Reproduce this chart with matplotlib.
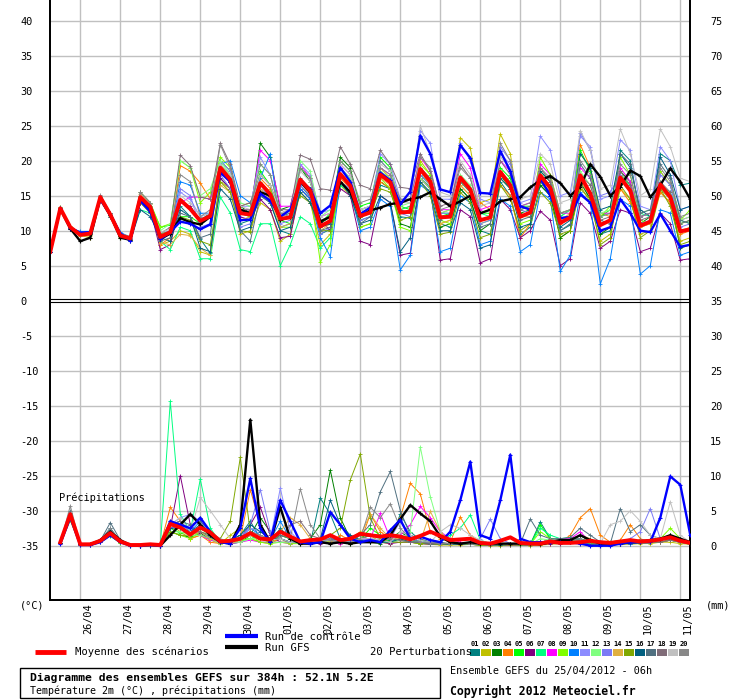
import matplotlib
matplotlib.use('Agg')
import matplotlib.pyplot as plt
from matplotlib.lines import Line2D
from matplotlib.patches import Rectangle

# ---------------- data ----------------
hours = list(range(0, 385, 6))          # 25/04 06h ... +384h, 6-hourly
precip_hours = hours[1:]
day_hours = list(range(18, 384, 24))    # 00h of each day
day_labels = ['26/04', '27/04', '28/04', '29/04', '30/04', '01/05', '02/05', '03/05',
              '04/05', '05/05', '06/05', '07/05', '08/05', '09/05', '10/05', '11/05']
left_ticks = [40, 35, 30, 25, 20, 15, 10, 5, 0, -5, -10, -15, -20, -25, -30, -35]
right_ticks = [75, 70, 65, 60, 55, 50, 45, 40, 35, 30, 25, 20, 15, 10, 5, 0]
member_ids = ['01', '02', '03', '04', '05', '06', '07', '08', '09', '10',
              '11', '12', '13', '14', '15', '16', '17', '18', '19', '20']
member_colors = ['#008080', '#c0c000', '#008000', '#ff8000', '#00ff00', '#800080', '#00ff80',
                 '#ff00ff', '#80ff00', '#0080ff', '#8c8cff', '#80ff80', '#7b7bf5', '#e0b040',
                 '#80a800', '#005f80', '#507080', '#806c78', '#c0c0c0', '#888888']

temp_mean = [7.0,13.2,10.5,9.4,9.6,14.8,12.3,9.3,8.9, 14.8,13.4,9.1,9.8, 14.4,13.1,11.4,12.1,
             19.0,17.3,12.5,12.3, 16.8,15.2,11.7,11.9, 17.3,15.7,10.6,11.4, 18.1,16.4,12.1,12.6,
             18.0,16.9,12.6,12.7, 18.8,17.0,11.9,12.0, 17.6,15.9,11.5,11.9, 18.4,16.5,12.0,12.6,
             17.9,16.1,11.1,11.9, 17.9,15.3,10.8,11.5, 17.6,15.7,10.7,11.3, 16.6,14.8,9.9,10.2]
temp_ctrl = [7.0,13.2,10.4,9.7,9.8,14.5,12.3,9.6,8.6, 14.3,12.7,8.8,9.8, 11.3,11.0,10.2,10.9,
             18.3,17.0,11.5,11.6, 15.3,14.3,12.0,13.0, 17.0,16.0,12.5,13.6, 19.0,17.0,12.4,13.3,
             18.3,17.2,13.8,15.6, 23.6,21.0,15.9,15.5, 22.2,20.4,15.4,15.3, 21.4,18.5,13.5,13.0,
             17.5,15.0,11.8,12.0, 15.2,14.0,10.0,10.5, 14.5,12.5,10.0,9.8, 12.4,10.0,7.7,8.0]
temp_gfs = [7.0,13.1,10.3,8.5,9.0,14.6,12.2,9.0,8.7, 14.4,13.0,8.8,9.6, 11.8,11.2,10.9,12.0,
            18.6,17.0,13.0,12.5, 15.5,15.0,11.5,12.0, 17.0,15.5,11.3,12.0, 17.0,15.5,12.1,12.9,
            13.3,13.8,14.0,14.5, 14.8,15.5,14.5,13.5, 14.2,15.0,12.5,13.0, 14.2,14.5,14.8,16.2,
            17.2,17.8,16.8,15.0, 16.3,19.5,17.7,15.0, 16.3,18.6,17.8,14.8, 16.5,18.9,17.0,14.5]

t01 = [7.0,13.3,10.4,9.6,9.8,14.6,12.4,9.4,8.8, 14.6,13.0,9.2,9.9, 13.5,12.0,8.8,6.8, 17.5,16.0,11.0,11.5, 15.0,14.0,10.0,9.5, 16.5,14.8,9.5,10.2, 17.0,15.5,11.5,12.0, 16.5,16.0,12.0,11.8, 17.5,16.2,11.0,10.5, 16.0,14.5,10.0,9.5, 17.0,15.0,9.5,10.5, 16.5,15.0,10.0,10.8, 17.0,14.5,9.5,10.0, 21.5,20.0,12.0,12.5, 21.0,20.0,16.5,16.8]
t02 = [7.0,13.4,10.6,9.3,9.0,14.5,12.0,9.0,8.7, 14.0,13.0,8.0,8.5, 10.0,9.5,7.0,6.5, 17.0,16.0,9.5,10.0, 14.0,13.0,8.5,9.5, 15.5,14.0,8.0,9.5, 16.5,15.0,10.5,11.0, 19.0,17.5,12.5,13.0, 20.0,18.0,11.0,11.5, 23.3,21.8,14.0,14.5, 23.8,21.0,12.0,12.5, 17.0,15.0,9.0,10.0, 16.5,14.0,8.5,9.5, 16.0,14.5,9.5,10.0, 15.5,14.0,8.5,9.0]
t03 = [7.0,13.1,10.5,9.5,9.7,14.9,12.5,9.3,9.0, 15.0,13.5,9.0,9.8, 14.5,13.3,11.5,12.5, 20.0,18.5,13.5,12.5, 22.5,20.5,13.0,13.5, 19.0,17.0,11.0,12.0, 20.5,19.0,13.0,13.5, 17.0,16.0,11.0,10.5, 18.0,16.5,10.5,11.0, 16.0,14.5,10.0,11.0, 18.0,16.0,12.5,13.0, 16.5,15.0,9.0,10.0, 17.0,14.5,9.5,10.5, 18.5,17.0,11.0,12.0, 16.0,14.5,7.5,8.0]
t04 = [7.0,13.2,10.6,9.6,9.5,14.8,12.2,9.2,8.8, 14.5,13.4,8.0,9.0, 19.3,18.5,16.8,14.5, 19.5,17.5,13.5,14.0, 17.5,16.0,12.5,13.0, 17.0,15.0,10.5,11.0, 17.5,16.0,12.0,12.5, 17.0,16.0,13.0,13.5, 17.5,16.0,12.5,13.0, 16.5,15.0,14.0,13.0, 16.5,15.0,9.0,11.0, 18.0,16.0,11.0,12.0, 22.3,19.0,12.5,12.0, 16.0,14.0,10.5,11.0, 15.5,14.0,9.5,10.0]
t05 = [7.0,13.2,10.5,9.4,9.6,14.8,12.4,9.4,9.0, 15.0,13.8,10.5,10.8, 12.0,12.0,11.0,12.0, 19.5,18.0,12.5,12.0, 18.5,16.5,11.5,11.0, 19.0,17.5,11.0,12.5, 20.0,18.5,13.5,14.0, 20.5,19.0,13.5,13.0, 18.5,17.0,12.0,12.5, 17.5,16.0,12.5,12.5, 19.0,17.5,13.5,13.5, 18.5,17.0,12.0,13.0, 21.5,18.5,12.0,13.0, 18.0,16.5,12.0,12.5, 17.0,15.0,11.0,11.5]
t06 = [7.0,13.1,10.3,9.5,9.6,14.7,12.2,9.2,8.8, 14.5,13.0,7.3,8.0, 14.0,13.5,11.5,12.0, 17.5,16.0,12.0,11.5, 14.5,13.0,9.0,9.2, 16.0,14.5,11.5,10.0, 16.0,15.0,8.5,8.0, 15.0,14.0,6.5,6.8, 17.5,16.0,5.8,6.0, 13.0,12.0,5.4,6.0, 14.5,13.0,9.0,10.0, 12.8,11.5,5.0,6.0, 14.0,12.5,7.5,8.5, 13.0,12.5,7.0,7.5, 12.5,11.0,5.8,6.0]
t07 = [7.0,13.3,10.5,9.5,9.7,14.9,12.3,9.3,8.9, 13.0,12.5,8.5,7.3, 10.5,10.0,6.0,6.0, 14.8,12.5,7.3,7.0, 11.0,11.0,5.0,8.0, 12.0,11.0,7.5,9.0, 16.5,15.5,12.0,13.0, 18.0,17.0,13.0,13.5, 18.0,16.5,12.5,12.5, 17.0,16.0,12.5,12.0, 18.5,17.0,13.0,13.5, 17.5,16.5,12.0,13.0, 17.5,15.5,12.0,12.5, 17.5,16.5,12.5,12.0, 16.5,15.5,11.5,11.0]
t08 = [7.0,13.2,10.6,9.6,9.7,14.8,12.3,9.4,8.9, 14.8,13.3,9.3,10.0, 14.0,14.8,14.8,14.5, 18.5,17.0,13.0,13.0, 21.5,20.0,13.5,13.5, 19.5,17.5,12.0,12.5, 19.5,18.0,13.0,13.5, 19.0,18.0,14.0,14.5, 20.5,18.5,13.0,13.0, 21.0,19.0,13.0,13.5, 20.0,18.5,13.5,14.0, 19.5,18.0,12.5,12.5, 19.0,17.5,12.5,12.5, 19.0,17.0,12.0,12.5, 18.5,16.5,11.5,12.0]
t09 = [7.0,13.4,10.7,9.4,9.5,14.6,12.1,9.2,8.7, 15.5,14.0,10.5,11.0, 20.0,19.0,14.0,15.5, 20.5,19.0,12.5,12.0, 17.0,15.5,10.5,10.5, 17.0,15.5,5.5,8.0, 18.0,16.5,10.5,11.0, 17.5,16.0,10.5,10.0, 19.5,18.0,11.5,11.0, 17.0,15.5,11.0,11.5, 18.5,16.5,11.0,11.5, 20.5,18.0,12.5,13.0, 21.0,19.0,12.0,13.5, 20.5,18.0,11.5,11.0, 18.5,16.5,11.5,13.0]
t10 = [7.0,13.2,10.4,9.9,9.9,14.6,12.6,9.8,9.0, 14.0,12.8,9.0,9.5, 17.0,16.5,12.5,12.5, 19.5,20.0,15.0,14.0, 17.5,21.0,10.5,11.0, 16.0,14.5,9.0,6.3, 17.0,15.5,10.0,10.5, 14.5,13.5,4.4,6.5, 16.5,15.5,7.0,7.5, 15.0,14.0,8.0,8.5, 14.5,13.5,7.0,8.0, 15.5,14.5,4.2,6.5, 15.5,14.0,2.4,6.0, 14.5,13.5,3.8,5.0, 13.0,12.5,6.5,7.0]
t11 = [7.0,13.1,10.6,9.4,9.7,14.7,12.4,9.3,8.8, 14.0,12.8,8.7,9.5, 15.5,14.5,12.0,12.5, 20.0,18.5,13.5,13.5, 20.5,18.0,12.5,13.0, 19.5,18.0,12.5,13.0, 19.0,17.5,13.0,13.5, 21.0,19.5,14.5,14.5, 24.3,22.5,14.5,14.5, 22.5,20.0,14.5,14.0, 21.0,19.5,14.0,14.5, 23.5,21.5,15.0,15.5, 23.5,22.0,14.5,15.0, 23.0,21.5,13.5,13.0, 22.0,20.0,13.0,13.5]
t12 = [7.0,13.2,10.5,9.5,9.6,14.8,12.3,9.3,8.9, 14.8,13.5,10.0,11.0, 20.0,19.0,15.0,16.0, 20.0,18.0,14.0,13.5, 19.5,18.0,12.5,12.5, 20.0,18.5,12.0,13.0, 19.0,17.5,13.0,13.5, 18.5,17.5,13.5,14.0, 17.5,16.0,12.5,13.0, 18.0,16.5,12.5,13.0, 17.5,16.0,13.0,13.5, 17.0,15.5,12.5,13.0, 18.5,16.5,12.5,13.0, 17.5,16.0,12.5,13.0, 16.0,15.0,11.5,12.0]
t13 = [7.0,13.0,10.4,9.7,9.8,14.4,12.0,9.5,9.0, 14.2,13.0,9.5,10.0, 16.0,15.0,10.5,11.0, 18.0,16.0,10.5,11.0, 16.0,15.0,11.0,11.5, 16.5,15.0,9.5,10.5, 17.0,16.0,11.5,12.0, 18.0,17.0,12.5,12.0, 18.0,16.5,12.5,12.5, 17.5,16.0,11.0,11.5, 22.0,20.0,13.0,12.5, 17.5,16.0,11.5,12.0, 24.0,21.5,15.0,15.5, 18.0,16.0,11.0,11.5, 18.0,16.5,10.5,11.0]
t14 = [7.0,13.3,10.5,9.3,9.2,14.9,12.4,9.2,8.6, 15.2,13.8,8.3,8.0, 9.5,9.3,7.5,6.5, 16.5,15.5,11.5,12.0, 16.0,14.5,10.5,11.0, 17.0,15.5,10.0,11.0, 18.0,16.5,12.0,12.5, 17.5,16.5,12.5,13.0, 18.5,16.5,11.0,11.5, 16.5,15.0,11.5,12.0, 17.5,16.0,12.0,12.0, 17.5,16.0,11.5,12.5, 17.0,15.0,11.0,11.5, 17.5,16.0,10.5,11.0, 16.0,14.5,10.0,10.5]
t15 = [7.0,13.2,10.4,9.4,9.4,14.7,12.2,9.1,8.7, 14.0,12.5,9.6,9.8, 12.0,11.5,8.5,8.0, 17.0,15.5,10.0,9.8, 16.5,15.0,11.5,12.0, 15.0,14.0,10.0,10.0, 17.0,15.5,12.0,12.5, 16.0,15.5,11.5,12.0, 17.0,15.0,9.5,9.8, 15.5,14.0,9.0,9.5, 16.5,14.5,10.0,11.0, 15.5,14.0,9.5,10.0, 16.0,14.5,8.0,9.0, 16.5,14.5,9.0,10.0, 16.0,13.5,8.0,8.5]
t16 = [7.0,13.1,10.3,9.6,9.5,14.3,12.0,9.2,8.5, 13.0,12.0,9.0,8.5, 13.0,12.0,7.5,7.0, 16.0,14.5,10.0,10.5, 15.5,14.0,10.0,10.5, 15.5,14.0,10.5,11.0, 17.0,15.0,11.0,11.5, 15.0,14.0,7.0,9.0, 17.0,15.5,10.0,10.0, 14.0,13.0,7.5,8.0, 17.5,16.0,10.5,11.0, 18.5,17.0,10.5,11.5, 21.0,19.0,13.0,13.5, 21.0,19.0,13.0,12.0, 20.5,18.0,13.0,13.5]
t17 = [7.0,13.1,10.5,9.5,9.5,14.5,12.5,9.4,8.8, 14.2,13.0,8.5,9.0, 12.5,12.0,9.0,9.5, 19.0,17.0,10.0,8.5, 15.0,14.0,12.0,12.5, 17.5,16.0,10.0,10.5, 18.0,16.5,11.0,12.0, 20.0,18.5,13.0,12.5, 19.0,17.5,11.5,12.5, 17.0,15.5,10.5,11.0, 18.0,16.5,11.5,12.0, 17.0,15.5,10.0,11.0, 19.5,17.5,11.5,11.0, 21.0,19.5,12.5,13.0, 19.5,17.5,11.5,11.0]
t18 = [7.0,13.3,10.6,9.4,9.6,15.1,12.6,9.5,9.0, 15.5,14.0,9.6,10.5, 20.8,19.3,14.8,14.5, 22.5,19.5,13.5,14.0, 18.0,16.5,13.0,13.0, 20.8,20.2,16.0,15.8, 22.0,19.5,16.5,16.0, 21.5,19.5,16.2,16.0, 21.0,18.5,13.5,14.0, 19.5,17.5,12.5,13.0, 20.0,18.0,13.0,13.5, 19.0,17.0,12.5,13.0, 18.0,16.5,11.5,12.0, 18.5,16.5,11.5,12.0, 17.0,15.5,11.0,11.5]
t19 = [7.0,13.2,10.6,9.6,9.8,14.9,12.4,9.4,9.0, 15.0,13.8,9.8,10.2, 15.0,14.0,12.0,12.5, 19.5,18.0,13.5,13.0, 18.0,16.5,12.5,13.0, 18.5,17.0,12.0,12.5, 19.5,18.0,13.0,13.5, 19.5,18.5,14.0,14.0, 25.0,21.0,15.5,15.0, 20.0,18.0,13.5,14.0, 20.5,19.0,14.5,15.0, 21.0,19.5,14.0,14.5, 24.3,21.5,16.0,16.5, 24.5,21.0,15.0,16.0, 24.5,22.0,17.5,17.0]
t20 = [7.0,13.4,10.4,9.4,9.5,15.0,12.5,9.6,9.2, 15.5,14.0,9.0,10.0, 18.0,17.0,12.0,13.0, 22.3,19.0,13.0,13.0, 19.5,18.0,12.5,12.0, 19.0,17.5,11.5,12.0, 20.0,18.5,14.0,14.5, 19.0,18.0,14.5,14.5, 20.5,19.0,13.0,13.5, 19.0,17.5,12.5,13.0, 22.5,20.0,13.5,14.0, 19.0,17.5,12.5,13.0, 20.0,18.0,12.0,12.5, 19.5,18.0,12.0,12.5, 19.0,17.0,12.0,12.5]

# precipitation (mm / 6h), from +6h to +384h
p_mean = [0.5,4.5,0.2,0.2,0.7,1.8,0.6,0.1, 0.1,0.2,0.1,3.1,2.6,1.6,2.6,1.9, 0.6,0.7,1.0,1.8,1.0,0.9,2.0,1.3,
          0.6,0.8,0.9,1.5,0.8,1.0,1.7,1.5, 1.3,1.5,1.3,0.9,1.4,2.0,1.4,0.8, 0.9,1.0,0.4,0.3,0.7,1.2,0.4,0.3,
          0.3,0.6,0.4,0.4,0.5,0.7,0.5,0.4, 0.6,0.8,0.6,0.7,0.9,1.2,0.7,0.4]
p_ctrl = [0.3,4.0,0.1,0.1,0.5,1.5,0.5,0.0, 0.0,0.1,0.0,3.5,3.0,2.5,4.0,2.0, 0.5,0.3,2.5,9.6,2.5,0.5,6.5,3.5,
          0.5,0.3,0.5,4.8,3.0,1.0,0.5,0.8, 0.5,2.2,3.7,1.0,1.3,0.8,0.5,2.0, 6.5,12.0,1.5,1.0,6.5,13.0,1.0,0.5,
          0.5,0.5,0.5,0.5,0.3,0.0,0.0,0.0, 0.3,0.5,0.5,0.5,4.0,9.9,8.7,1.5]
p_gfs = [0.4,4.3,0.2,0.2,0.8,2.0,0.8,0.1, 0.0,0.1,0.0,1.5,3.0,4.5,3.0,1.5, 0.5,0.3,3.0,18.0,3.0,0.5,5.5,1.0,
         0.3,0.3,0.5,0.3,0.5,0.3,0.5,0.5, 0.5,1.5,3.8,5.8,4.6,3.5,1.3,0.5, 0.3,0.5,0.3,0.3,0.3,0.3,0.3,0.3,
         0.2,0.5,0.8,0.8,1.5,0.8,0.3,0.3, 0.3,0.5,0.5,0.8,1.0,1.5,1.0,0.5]

p01 = [0.4,4.5,0.1,0.1,0.7,2.2,0.6,0.1, 0.0,0.1,0.0,2.5,3.0,1.5,2.0,1.2, 0.5,0.8,1.5,3.5,1.0,0.5,2.5,1.0, 0.5,0.3,6.8,4.5,1.0,0.5,1.5,0.8, 0.5,0.8,4.5,2.0,0.8,0.5,0.3,0.2, 0.3,0.5,0.2,0.1,0.2,0.3,0.2,0.2, 3.4,1.0,0.8,0.5,0.6,0.5,0.3,0.3, 0.5,0.8,0.5,0.6,1.0,1.5,0.8,0.3]
p02 = [0.4,4.0,0.1,0.1,0.5,1.5,0.5,0.0, 0.0,0.0,0.0,3.0,2.0,1.0,1.5,0.8, 0.3,1.5,2.5,1.5,0.5,0.3,1.0,0.5, 0.3,0.2,0.5,0.5,0.3,1.0,2.0,1.5, 0.5,0.3,1.0,0.5,0.3,0.2,0.1,0.1, 0.1,0.2,0.1,0.0,0.0,0.1,0.1,0.0, 0.1,0.2,0.3,0.5,0.3,0.2,0.1,0.1, 0.2,0.2,0.3,0.3,0.5,0.5,0.3,0.2]
p03 = [0.4,4.2,0.2,0.1,0.6,1.6,0.5,0.1, 0.0,0.1,0.0,2.0,1.5,1.2,1.8,1.0, 0.5,0.3,0.5,1.5,4.0,2.0,1.0,0.5, 0.5,1.0,3.0,10.8,4.0,1.0,0.5,0.5, 0.3,1.0,2.0,1.0,0.5,0.3,0.2,0.3, 0.2,0.2,0.1,0.1,0.1,0.2,0.2,0.2, 0.5,0.8,1.0,0.8,1.5,0.5,0.3,0.2, 0.3,0.5,0.5,0.5,0.8,1.0,0.5,0.2]
p04 = [0.4,4.4,0.1,0.1,0.6,1.8,0.5,0.1, 0.0,0.1,0.0,5.5,3.5,1.0,1.5,0.5, 0.3,0.5,1.0,8.0,3.0,0.5,1.0,0.3, 0.3,0.5,1.0,0.5,1.5,0.8,0.5,4.5, 2.0,1.0,4.0,8.9,7.4,2.0,1.0,0.5, 4.1,1.5,0.5,0.3,0.2,0.2,0.2,0.1, 0.1,0.3,0.5,1.5,4.0,5.3,1.5,0.5, 0.8,3.0,1.0,0.5,0.5,0.8,0.5,0.3]
p05 = [0.4,4.6,0.1,0.1,0.5,1.4,0.4,0.1, 0.0,0.0,0.0,2.5,1.8,2.0,1.5,1.0, 0.5,0.3,0.8,1.0,0.5,0.5,1.5,1.0, 0.5,0.5,1.0,0.8,0.5,0.3,0.8,2.5, 1.5,0.5,1.0,0.5,0.8,0.5,0.3,0.3, 0.2,0.3,0.2,0.1,0.1,0.2,0.3,0.2, 3.0,1.0,0.8,1.0,1.0,0.5,0.3,0.3, 0.3,0.5,0.5,0.5,0.8,1.0,0.8,0.4]
p06 = [0.4,4.0,0.1,0.1,0.6,1.6,0.6,0.1, 0.0,0.1,0.0,2.5,10.0,3.0,1.5,1.0, 0.5,0.5,1.0,3.0,5.5,1.5,0.5,0.5, 0.3,0.5,0.3,0.5,0.8,0.5,1.0,0.8, 0.5,0.3,0.5,0.5,0.3,0.2,0.2,0.2, 0.2,0.2,0.1,0.1,0.1,0.1,0.1,0.1, 0.2,0.3,0.3,0.5,0.5,0.3,0.2,0.1, 0.3,0.3,0.5,0.5,0.5,0.8,0.5,0.3]
p07 = [0.4,4.3,0.1,0.1,0.5,1.5,0.5,0.1, 0.0,0.0,0.0,20.6,4.5,2.0,9.5,2.5, 0.5,0.3,0.5,1.0,1.5,0.8,1.5,1.0, 0.5,0.5,0.8,1.0,0.5,0.8,1.0,1.5, 1.5,1.0,0.8,0.5,0.5,0.3,0.5,1.5, 2.5,4.4,0.8,0.3,0.2,0.2,0.3,0.2, 2.5,1.5,1.0,1.2,0.8,0.3,0.3,0.3, 0.3,0.5,0.5,0.5,0.8,1.0,0.8,0.4]
p08 = [0.4,4.2,0.2,0.1,0.7,1.8,0.6,0.1, 0.0,0.1,0.0,2.5,3.0,2.5,1.5,0.8, 0.5,0.3,0.5,0.8,0.5,0.5,0.5,0.3, 0.5,0.3,0.5,0.5,0.3,0.5,1.0,1.0, 4.6,1.0,1.5,3.0,5.6,4.0,2.0,1.0, 0.5,0.3,0.3,0.2,0.2,0.1,0.2,0.1, 0.5,0.8,1.0,1.0,2.0,0.5,0.3,0.2, 0.3,0.5,0.5,0.5,0.5,0.8,0.5,0.3]
p09 = [0.4,3.6,0.1,0.1,0.5,1.4,0.4,0.0, 0.0,0.0,0.0,2.0,1.5,1.0,2.0,1.5, 0.5,0.5,0.8,1.0,0.5,0.3,0.5,0.3, 0.3,0.5,0.8,0.5,0.5,0.3,0.5,0.5, 0.5,0.5,0.8,0.5,0.3,0.3,0.2,0.2, 0.2,0.2,0.1,0.1,0.1,0.2,0.2,0.2, 2.0,1.0,0.8,0.8,1.5,0.8,0.3,0.3, 0.5,0.8,0.5,0.8,1.0,2.5,1.0,0.5]
p10 = [0.4,4.4,0.1,0.1,0.6,1.5,0.5,0.1, 0.0,0.1,0.0,3.0,3.5,2.0,3.5,1.5, 0.5,0.5,1.0,2.5,1.5,0.8,3.5,1.0, 0.5,0.3,0.5,1.0,0.8,0.5,0.5,0.5, 0.8,0.5,1.5,1.0,0.5,0.3,0.3,0.2, 0.2,0.3,0.2,0.1,0.1,0.2,0.1,0.1, 0.3,0.5,0.8,0.8,0.5,0.3,0.2,0.2, 0.3,0.3,0.5,0.5,0.5,0.8,0.5,0.3]
p11 = [0.4,4.3,0.1,0.1,0.6,1.7,0.5,0.1, 0.0,0.1,0.0,3.0,4.0,4.5,3.5,1.5, 0.5,0.5,1.0,2.5,2.0,1.0,8.2,2.0, 0.5,0.5,0.8,1.0,0.5,0.5,1.0,0.8, 1.0,0.5,0.8,0.5,0.5,0.3,0.3,0.3, 0.3,0.5,0.3,0.2,0.2,0.2,0.2,0.2, 0.5,0.8,0.5,0.8,1.0,0.5,0.3,0.3, 0.5,0.5,0.5,0.5,0.8,1.0,0.8,0.4]
p12 = [0.4,4.5,0.1,0.1,0.6,1.8,0.5,0.1, 0.0,0.1,0.0,2.0,2.0,1.5,1.5,1.0, 0.3,0.5,0.5,1.0,1.0,0.5,0.5,0.5, 0.3,0.5,0.5,0.5,0.5,0.5,1.0,1.5, 1.0,0.5,0.8,2.0,14.1,7.0,2.0,0.5, 0.3,0.3,0.2,0.1,0.1,0.2,0.2,0.2, 1.0,0.8,0.5,0.8,1.0,0.5,0.3,0.2, 0.3,0.5,0.5,0.8,1.0,1.5,0.8,0.3]
p13 = [0.4,4.1,0.1,0.1,0.5,1.5,0.5,0.1, 0.0,0.0,0.0,2.5,3.0,2.0,2.0,1.0, 0.5,0.5,1.0,3.0,8.0,2.0,1.0,0.5, 0.5,0.3,0.5,0.8,0.5,0.5,0.8,1.0, 0.8,1.0,3.5,1.5,0.5,0.5,0.3,0.3, 0.3,0.5,1.0,3.8,1.0,0.3,0.2,0.2, 0.3,0.5,0.5,0.5,0.8,0.5,0.3,0.3, 0.5,1.0,2.0,5.3,1.0,0.8,0.5,0.3]
p14 = [0.4,4.0,0.1,0.1,0.5,1.6,0.5,0.1, 0.0,0.1,0.0,3.5,2.5,1.5,2.0,1.0, 0.5,0.3,0.8,1.5,1.5,0.8,2.0,4.0, 3.0,1.0,0.5,0.5,0.5,0.8,1.5,4.5, 2.5,1.0,1.0,0.5,0.5,4.9,2.0,0.5, 0.3,0.3,0.2,0.1,0.1,0.2,0.2,0.2, 0.5,0.8,0.8,0.8,1.5,1.0,0.3,0.2, 0.3,0.5,0.5,0.5,0.5,0.8,0.5,0.3]
p15 = [0.4,4.2,0.1,0.1,0.6,1.6,0.5,0.1, 0.0,0.0,0.0,2.0,1.5,1.5,2.5,1.5, 1.0,3.5,12.6,2.0,1.0,0.5,1.5,1.0, 0.5,0.5,1.0,1.5,2.5,9.4,13.1,4.0, 1.0,0.5,0.5,0.5,0.3,0.3,0.2,0.2, 0.2,0.2,0.1,0.1,0.1,0.1,0.1,0.1, 0.3,0.5,0.5,0.8,0.8,0.3,0.2,0.2, 0.3,0.5,0.5,0.5,0.5,0.8,0.5,0.3]
p16 = [0.4,4.6,0.2,0.1,0.7,2.5,0.6,0.1, 0.0,0.1,0.0,2.5,2.5,2.0,3.0,1.5, 0.5,0.8,1.5,3.0,2.0,1.0,1.0,0.5, 0.5,0.5,1.0,6.5,3.0,1.5,0.8,0.5, 0.5,0.5,1.0,0.5,0.5,0.3,0.3,0.2, 0.2,0.3,0.2,0.1,0.1,0.2,0.2,0.2, 0.5,0.8,0.8,0.8,1.0,0.5,0.3,0.3, 0.5,0.5,0.8,0.8,1.0,1.0,0.8,0.4]
p17 = [0.4,5.0,0.2,0.1,0.7,3.3,0.8,0.1, 0.0,0.1,0.0,3.0,3.5,3.0,3.5,2.0, 0.5,0.5,1.0,2.0,1.5,0.8,1.5,1.0, 0.5,0.3,0.5,1.0,0.8,1.0,1.5,3.0, 7.7,10.6,5.0,1.5,1.0,0.5,0.5,0.3, 0.3,0.3,0.2,0.2,0.2,0.3,0.3,3.8, 1.5,1.0,1.0,1.2,2.5,1.5,0.5,0.3, 5.3,2.0,3.0,1.5,1.0,1.2,0.8,0.4]
p18 = [0.4,4.5,0.1,0.1,0.6,1.9,0.6,0.1, 0.0,0.1,0.0,3.0,3.5,2.0,2.0,1.5, 0.5,0.5,1.0,2.0,1.5,0.8,1.0,3.0, 3.5,1.5,1.0,0.8,0.5,0.5,1.0,1.5, 1.5,1.0,0.8,0.5,0.5,0.3,0.3,0.3, 0.3,0.3,0.2,0.1,0.2,0.2,0.2,0.2, 0.3,0.5,0.5,0.5,0.8,0.5,0.3,0.3, 0.5,0.5,0.5,0.5,0.5,0.8,0.5,0.3]
p19 = [0.4,4.3,0.1,0.1,0.6,1.7,0.5,0.1, 0.0,0.0,0.0,3.0,4.0,2.0,6.9,5.0, 3.0,1.0,1.0,1.5,1.5,0.8,1.0,0.5, 0.5,0.5,0.8,0.8,0.5,0.5,1.0,1.0, 0.8,0.5,2.0,1.5,0.8,0.5,2.0,3.0, 2.5,1.5,0.8,0.3,0.2,0.2,0.2,0.2, 0.5,0.8,0.8,0.8,1.5,0.8,0.3,3.0, 3.5,5.0,3.5,1.5,1.0,6.3,1.5,0.5]
p20 = [0.4,5.7,0.2,0.1,0.8,2.5,0.7,0.1, 0.0,0.1,0.0,3.0,3.0,2.5,4.0,2.0, 1.0,0.5,1.0,2.0,1.5,1.0,2.0,1.0, 8.1,3.0,1.0,0.8,0.5,0.5,1.0,5.5, 4.0,6.0,2.5,1.0,0.5,0.5,0.3,0.3, 0.3,0.3,0.2,0.2,0.2,0.2,0.2,0.2, 0.5,0.8,0.8,0.8,1.0,0.5,0.3,0.3, 0.5,0.5,0.8,0.8,1.0,1.5,0.8,0.4]

member_temps = [t01, t02, t03, t04, t05, t06, t07, t08, t09, t10,
                t11, t12, t13, t14, t15, t16, t17, t18, t19, t20]
member_precs = [p01, p02, p03, p04, p05, p06, p07, p08, p09, p10,
                p11, p12, p13, p14, p15, p16, p17, p18, p19, p20]

# ---------------- figure ----------------
W, H = 740, 700
fig = plt.figure(figsize=(W / 100, H / 100), dpi=100)
fig.patch.set_facecolor('white')
MONO = 'DejaVu Sans Mono'

def fx(px):
    return px / W

def fy(py):
    return 1 - py / H

# plot area: x 50.3..690.3 px, y 0..600 px ; 7 px per unit, 0 at y=300.7
ax = fig.add_axes([fx(50.3), fy(600), 640 / W, 600 / H])
y_top = 300.7 / 7
y_bot = (300.7 - 600) / 7
ax.set_xlim(0, 384)
ax.set_ylim(y_bot, y_top)

ax2 = ax.twinx()
ax2.set_ylim(y_bot + 35, y_top + 35)   # precipitation scale (mm)
ax2.patch.set_visible(False)

for a in (ax, ax2):
    for s in ('left', 'right', 'bottom'):
        a.spines[s].set_color('black')
        a.spines[s].set_linewidth(1.3)
    a.spines['top'].set_visible(False)

# grid
ax.set_xticks(day_hours)
ax.set_xticklabels([])
ax.set_yticks(left_ticks)
ax.set_yticklabels([str(v) for v in left_ticks], family=MONO, fontsize=7.4)
ax.tick_params(axis='both', length=0)
ax.tick_params(axis='y', pad=21.8)
for lab in ax.get_yticklabels():
    lab.set_horizontalalignment('left')
ax.grid(True, color='#c0c0c0', linewidth=1.0)
ax.set_axisbelow(True)
for gl, v in zip(ax.yaxis.get_gridlines(), left_ticks):
    if v == 0:
        gl.set_visible(False)

ax2.set_yticks(right_ticks)
ax2.set_yticklabels([str(v) for v in right_ticks], family=MONO, fontsize=7.4)
ax2.tick_params(axis='y', length=0, pad=14.3)

# separator double line
ax.axhline(0.22, color='black', lw=0.8, zorder=5)
ax.axhline(-0.2, color='black', lw=0.8, zorder=5)

# ensemble members
for tv, pv, c in zip(member_temps, member_precs, member_colors):
    ax.plot(hours, tv, color=c, lw=0.7, marker='+', ms=2.8, mew=0.6, zorder=2)
    ax2.plot(precip_hours, pv, color=c, lw=0.7, marker='+', ms=2.8, mew=0.6, zorder=2)

# GFS, control, mean
ax.plot(hours, temp_gfs, color='black', lw=1.7, marker='+', ms=3, mew=0.8, zorder=3)
ax2.plot(precip_hours, p_gfs, color='black', lw=1.7, marker='+', ms=3, mew=0.8, zorder=3)
ax.plot(hours, temp_ctrl, color='#0000ff', lw=1.7, marker='+', ms=3, mew=0.8, zorder=3)
ax2.plot(precip_hours, p_ctrl, color='#0000ff', lw=1.7, marker='+', ms=3, mew=0.8, zorder=3)
ax.plot(hours, temp_mean, color='#ff0000', lw=2.8, zorder=4)
ax2.plot(precip_hours, p_mean, color='#ff0000', lw=2.8, zorder=4)

# texts in/around plot
fig.text(fx(59), fy(498), 'Précipitations', family=MONO, fontsize=7.4, ha='left', va='center')
fig.text(fx(20), fy(605), '(°C)', family=MONO, fontsize=7.4, ha='left', va='center')
fig.text(fx(706), fy(605), '(mm)', family=MONO, fontsize=7.4, ha='left', va='center')

# date labels (rotated)
for h, lab in zip(day_hours, day_labels):
    xp = 50.3 + h * 640 / 384 + 8
    fig.text(fx(xp), fy(603), lab, family=MONO, fontsize=7.4, rotation=90,
             ha='center', va='top')

# legend
def fline(x1, x2, y, color, lw):
    fig.add_artist(Line2D([fx(x1), fx(x2)], [fy(y), fy(y)], transform=fig.transFigure,
                          color=color, lw=lw, solid_capstyle='butt'))

fline(35, 66, 652, '#ff0000', 3.5)
fig.text(fx(75), fy(652), 'Moyenne des scénarios', family=MONO, fontsize=7.6, ha='left', va='center')
fline(225, 258, 636, '#0000ff', 3.0)
fig.text(fx(265), fy(637), 'Run de contrôle', family=MONO, fontsize=7.6, ha='left', va='center')
fline(225, 258, 647, 'black', 3.0)
fig.text(fx(265), fy(648), 'Run GFS', family=MONO, fontsize=7.6, ha='left', va='center')
fig.text(fx(370), fy(652), '20 Perturbations', family=MONO, fontsize=7.6, ha='left', va='center')
for k, (mid, c) in enumerate(zip(member_ids, member_colors)):
    x0 = 470 + 11 * k
    fig.add_artist(Rectangle((fx(x0), fy(656)), 10 / W, 7 / H, transform=fig.transFigure,
                             facecolor=c, edgecolor='none'))
    fig.text(fx(x0 + 5), fy(644), mid, family=MONO, fontsize=5.0, ha='center', va='center',
             fontweight='bold')

# info box
fig.add_artist(Rectangle((fx(20), fy(698)), 420 / W, 30 / H, transform=fig.transFigure,
                         facecolor='none', edgecolor='black', lw=1.0))
fig.text(fx(30), fy(678), 'Diagramme des ensembles GEFS sur 384h : 52.1N 5.2E', family=MONO,
         fontsize=8.2, fontweight='bold', ha='left', va='center')
fig.text(fx(30), fy(691), 'Température 2m (°C) , précipitations (mm)', family=MONO,
         fontsize=7.2, ha='left', va='center')
fig.text(fx(450), fy(671), 'Ensemble GEFS du 25/04/2012 - 06h', family=MONO,
         fontsize=7.3, ha='left', va='center')
fig.text(fx(450), fy(691), 'Copyright 2012 Meteociel.fr', family=MONO,
         fontsize=8.3, fontweight='bold', ha='left', va='center')

fig.savefig('out.png', dpi=100, facecolor='white')
